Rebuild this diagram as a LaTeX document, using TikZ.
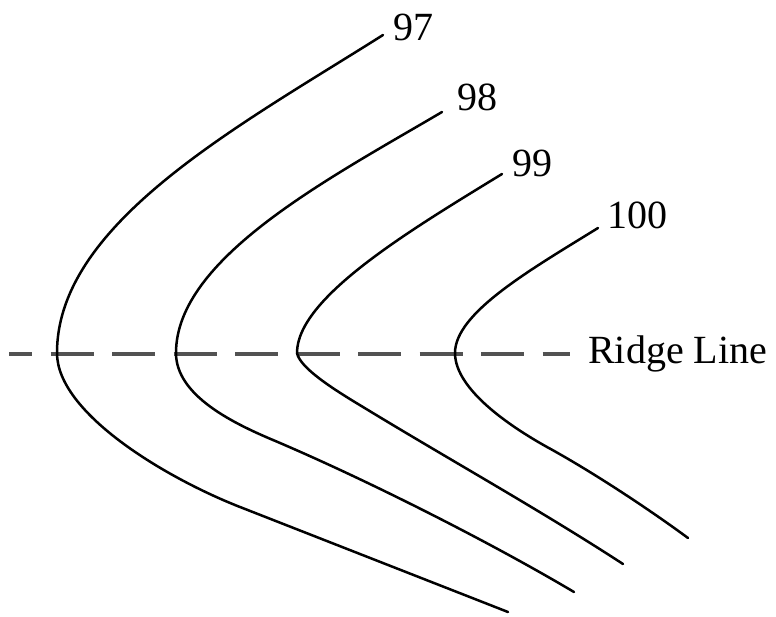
\documentclass[tikz,border=0pt]{standalone}
\usepackage{fontspec}
\setmainfont{Liberation Serif}
\begin{document}
\begin{tikzpicture}[x=1pt,y=-1pt,
  contour/.style={line width=2.5pt, black, line cap=round},
  ridgeline/.style={line width=3.2pt, black!68, dash pattern=on 43pt off 18.5pt, dash phase=20pt},
  lbl/.style={font=\fontsize{40}{48}\selectfont, inner sep=0pt}]
\useasboundingbox (0,0) rectangle (776,617);
\draw[ridgeline] (9,354) -- (570,354);
% contour 97
\draw[contour] (383,35) .. controls (239,126) and (57,223) .. (57,353)
  .. controls (57,413) and (165.5,477.8) .. (240,507) -- (508,612);
% contour 98
\draw[contour] (442,112) .. controls (330,178) and (176,258) .. (176,353)
  .. controls (176,395) and (231.5,422.5) .. (273,440)
  .. controls (365,479) and (488,541) .. (574,592);
% contour 99
\draw[contour] (502,174) .. controls (408,231.5) and (297,298) .. (297,353)
  .. controls (300,368) and (333,389) .. (363,407)
  .. controls (450,460) and (540,510) .. (623,564);
% contour 100
\draw[contour] (598,228) .. controls (530,270) and (455,313) .. (455,353)
  .. controls (455,390) and (512,427.5) .. (547,447)
  .. controls (591,471) and (648,508.5) .. (688,538);
\node[lbl] (l97) at (413,27) {97};
\node[lbl] (l98) at (477,97) {98};
\node[lbl] (l99) at (532,163) {99};
\node[lbl] (l100) at (637,215) {100};
\node[lbl, anchor=base west] (ridge) at (588,363) {Ridge Line};
\end{tikzpicture}
\end{document}
